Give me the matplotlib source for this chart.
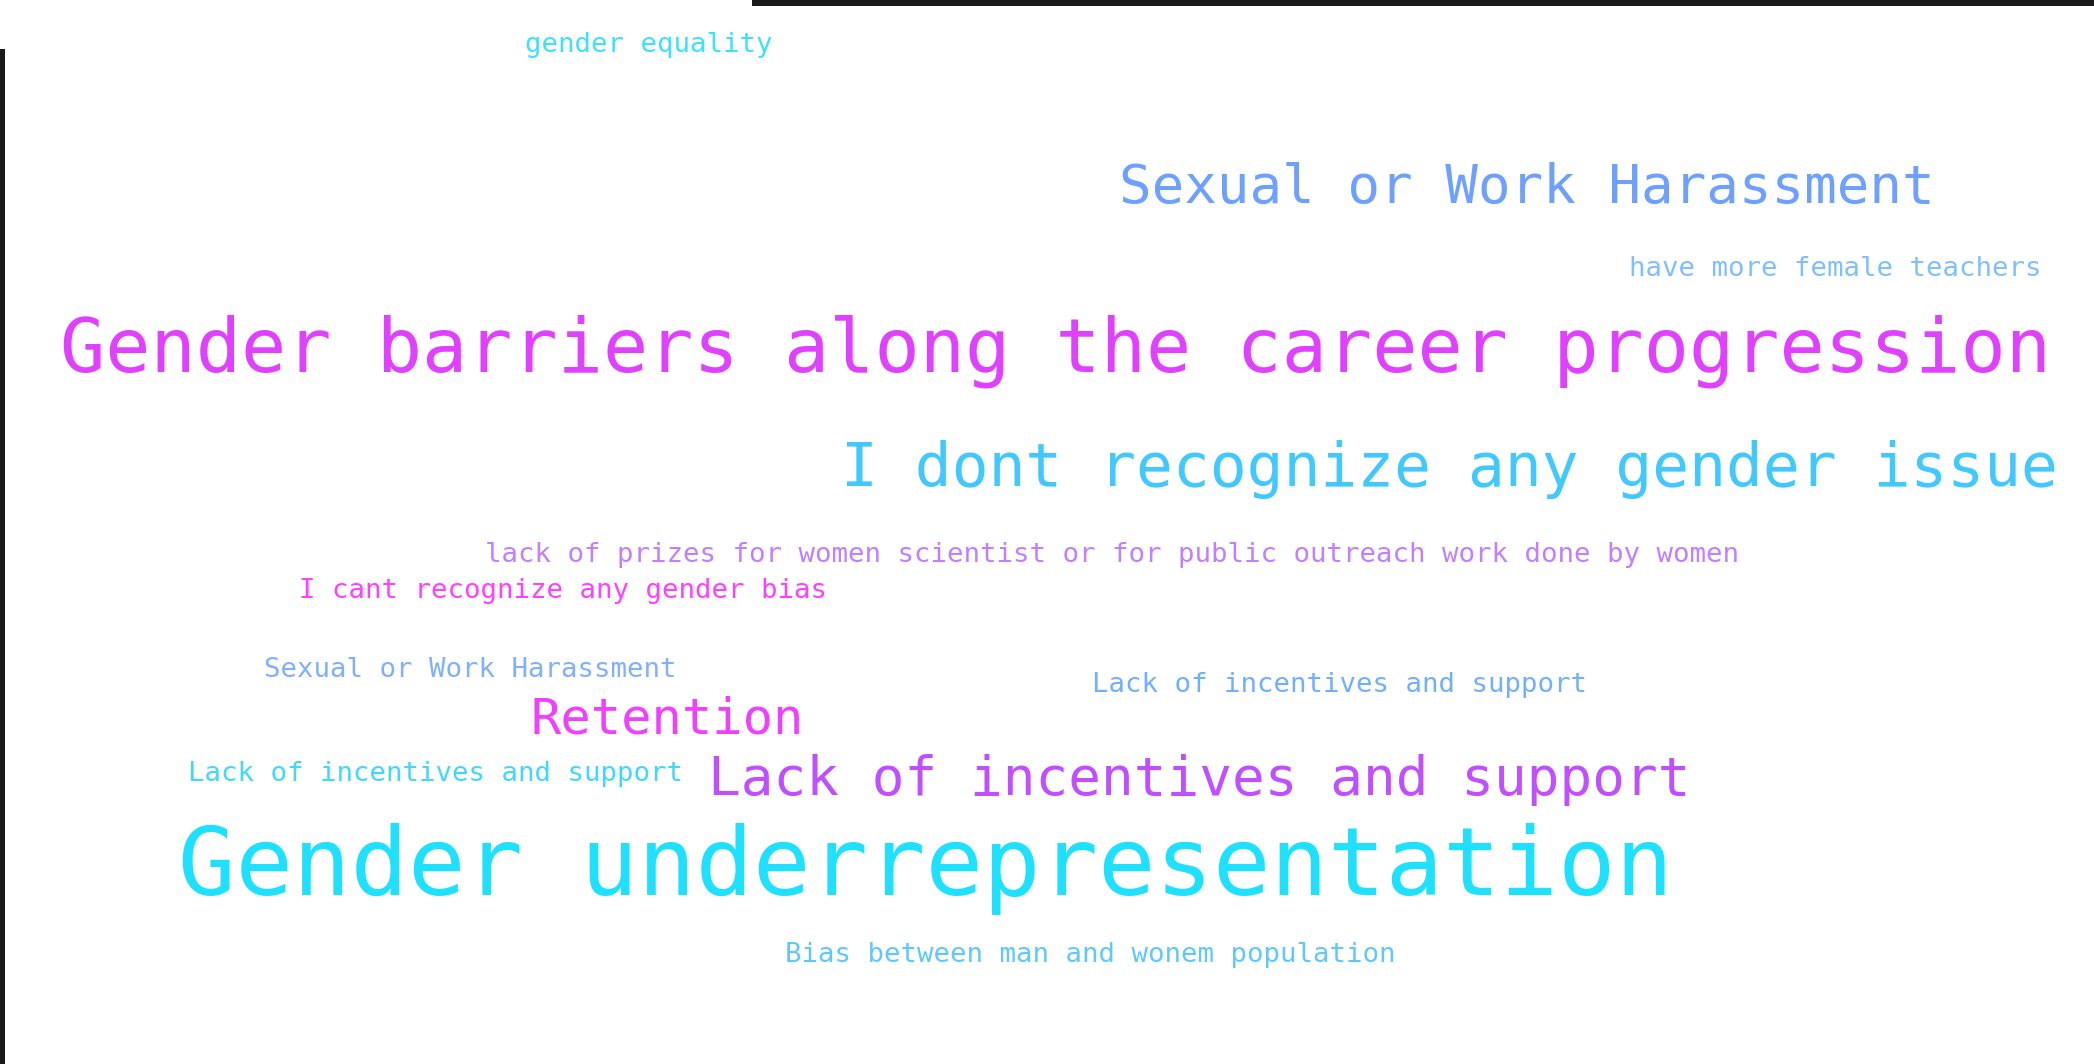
import matplotlib
matplotlib.use("Agg")
import matplotlib.pyplot as plt
from matplotlib.patches import Rectangle

# ---- data: phrases and their relative weights (size in the cloud) ----
phrases = [
    "gender equality",
    "Sexual or Work Harassment",
    "have more female teachers",
    "Gender barriers along the career progression",
    "I dont recognize any gender issue",
    "lack of prizes for women scientist or for public outreach work done by women",
    "I cant recognize any gender bias",
    "Sexual or Work Harassment",
    "Lack of incentives and support",
    "Retention",
    "Lack of incentives and support",
    "Lack of incentives and support",
    "Gender underrepresentation",
    "Bias between man and wonem population",
]
weights = [1.0, 1.985, 1.0, 2.745, 2.24, 1.0, 1.0, 1.0, 1.0, 1.846, 1.0, 1.99, 3.49, 1.0]

# ---- layout / style (left x, baseline y in pixels; colours) ----
anchors = [
    (525, 52), (1119, 203), (1629, 276), (60, 372), (841, 486),
    (485, 562), (299, 598), (264, 677), (1092, 692), (531, 733),
    (188, 781), (708, 795), (178, 895), (785, 962),
]
colors = [
    "#3ee0ff", "#6ea0ff", "#80c0ff", "#e040ff", "#40c8ff",
    "#c080ff", "#ff40ff", "#80b0ff", "#70b0ff", "#f040ff",
    "#40d8ff", "#c050ff", "#20e0ff", "#60c8ff",
]

W, H, DPI = 2094, 1064, 100
unit_px = 27.35

fig = plt.figure(figsize=(W / DPI, H / DPI), dpi=DPI)
fig.patch.set_facecolor("white")
ax = fig.add_axes([0, 0, 1, 1])
ax.set_xlim(0, W)
ax.set_ylim(H, 0)
ax.axis("off")

for txt, w, (x, y), c in zip(phrases, weights, anchors, colors):
    fs_pt = unit_px * w * 72 / DPI
    ax.text(x, y, txt, fontsize=fs_pt, color=c, family="DejaVu Sans Mono",
            ha="left", va="baseline")

# dark frame fragments
ax.add_patch(Rectangle((0, 49), 5, H - 49, color="#1a1a1a", lw=0))
ax.add_patch(Rectangle((752, 0), W - 752, 6, color="#1a1a1a", lw=0))

fig.savefig("out.png", dpi=DPI, facecolor="white")
